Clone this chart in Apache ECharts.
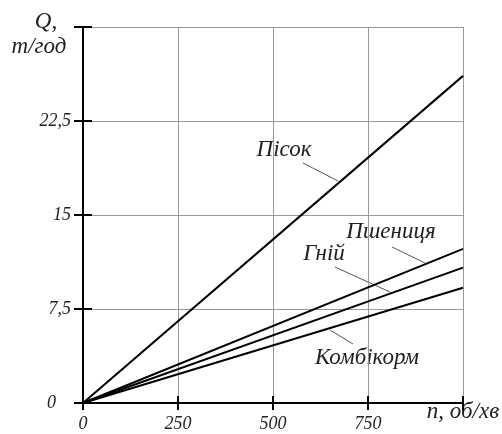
<!DOCTYPE html>
<html>
<head>
<meta charset="utf-8">
<script src="https://cdn.jsdelivr.net/npm/echarts@6/dist/echarts.min.js"></script>
<style>
  html, body { margin: 0; padding: 0; background: #fff; }
  #chart { width: 502px; height: 434px; }
</style>
</head>
<body>
<div id="chart"></div>
<script>
// швидкість обертання, об/хв
const speeds = [0, 1000];
// продуктивність на 1000 об/хв, т/год
const names = ["Пісок", "Пшениця", "Гній", "Комбікорм"];
const endValues = [26.1, 12.3, 10.8, 9.2];
const xTicks = [0, 250, 500, 750, 1000];
const yTicks = [0, 7.5, 15, 22.5, 30];

const font = "Liberation Serif";
const big = "italic 23px " + font;
const chart = echarts.init(document.getElementById("chart"));

const series = names.map((name, i) => ({
  name: name,
  type: "line",
  data: speeds.map(n => [n, endValues[i] * n / 1000]),
  symbol: "none",
  lineStyle: { color: "#000", width: 2 },
  silent: true
}));

function tickLabel(v, max) {
  if (v === max) return "";
  return String(v).replace(".", ",");
}

// підпис у центрі точки
function label(text, x, y) {
  return {
    type: "text",
    style: { text: text, x: x, y: y, align: "center", verticalAlign: "middle", font: big, fill: "#222" }
  };
}
function leader(x1, y1, x2, y2) {
  return { type: "line", shape: { x1: x1, y1: y1, x2: x2, y2: y2 }, style: { stroke: "#555", lineWidth: 1 } };
}

const baseX = { type: "value", min: 0, max: 1000, interval: 250 };
const baseY = { type: "value", min: 0, max: 30, interval: 7.5 };

chart.setOption({
  animation: false,
  grid: { left: 83, right: 39, top: 27, bottom: 31 },
  xAxis: [
    Object.assign({}, baseX, {
      axisLine: { lineStyle: { color: "#000", width: 2 } },
      axisTick: { show: true, length: 7, lineStyle: { color: "#000", width: 2 } },
      splitLine: { show: true, lineStyle: { color: "#999", width: 1 } },
      axisLabel: {
        margin: 12, color: "#222", fontFamily: font, fontStyle: "italic", fontSize: 18,
        formatter: v => tickLabel(v, 1000)
      }
    }),
    Object.assign({}, baseX, {
      position: "bottom",
      axisLine: { show: false },
      axisTick: { show: true, inside: true, length: 7, lineStyle: { color: "#000", width: 2 } },
      splitLine: { show: false },
      axisLabel: { show: false }
    })
  ],
  yAxis: [
    Object.assign({}, baseY, {
      axisLine: { show: true, lineStyle: { color: "#000", width: 2 } },
      axisTick: { show: true, length: 9, lineStyle: { color: "#000", width: 2 } },
      splitLine: { show: true, lineStyle: { color: "#999", width: 1 } },
      axisLabel: {
        margin: 12, color: "#222", fontFamily: font, fontStyle: "italic", fontSize: 18,
        formatter: v => v === 0 ? "{z|0}" : tickLabel(v, 30),
        rich: { z: { fontFamily: font, fontStyle: "italic", fontSize: 18, color: "#222", padding: [0, 15, 0, 0] } }
      }
    }),
    Object.assign({}, baseY, {
      position: "left",
      axisLine: { show: false },
      axisTick: { show: true, inside: true, length: 9, lineStyle: { color: "#000", width: 2 } },
      splitLine: { show: false },
      axisLabel: { show: false }
    })
  ],
  series: series,
  graphic: [
    label("Q,", 46, 22),
    label("т/год", 39, 47),
    label("n, об/хв", 463, 412),

    label("Пісок", 284, 150),
    leader(303, 163, 338, 181),

    label("Пшениця", 391, 232),
    leader(392, 247, 425, 263),

    label("Гній", 324, 254),
    leader(335, 267, 390, 292),

    label("Комбікорм", 367, 358),
    leader(330, 330, 353, 344)
  ]
});
</script>
</body>
</html>
